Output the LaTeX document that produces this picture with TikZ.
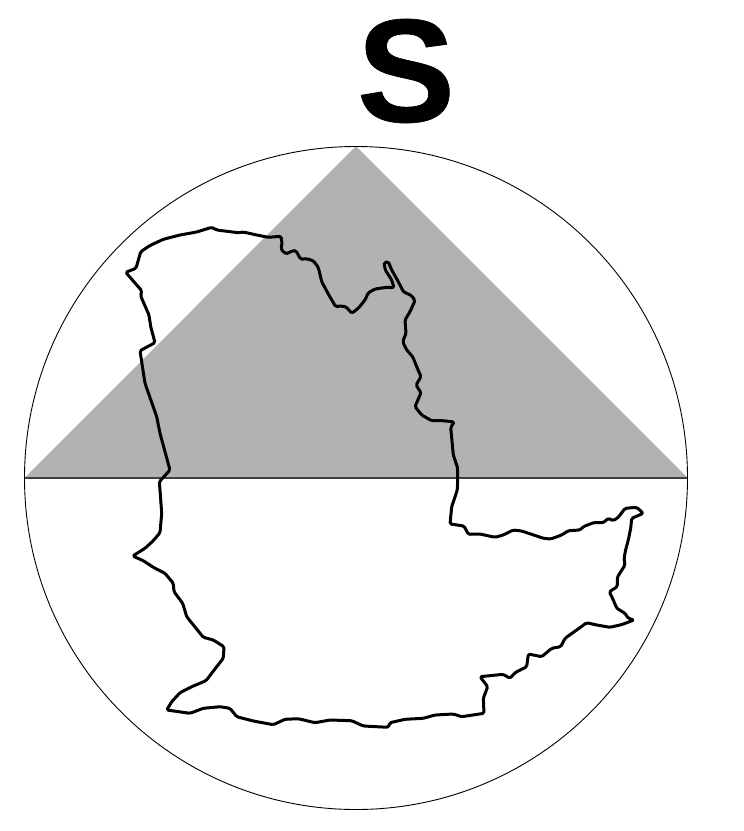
\documentclass[tikz,border=0pt]{standalone}
\usepackage{fontspec}
\setmainfont{Liberation Sans}
\newfontfamily\heavyfont[UprightFont=*-Bold,Extension=.ttf,FakeBold=0.5]{LiberationSans}
\definecolor{wedge}{HTML}{B2B2B2}
\definecolor{chord}{HTML}{404040}
\tikzset{outline/.style={line width=3pt,line join=round,line cap=round,rounded corners=1.5pt}}

\begin{document}
\begin{tikzpicture}[x=1pt,y=-1pt]
\useasboundingbox (0,0) rectangle (744,831);
\fill[wedge] (24.5,478)--(356,146)--(688,478)--cycle;
\draw[chord,line width=1.3pt] (24.5,478)--(688,478);
\draw[line width=0.9pt] (356,478) circle (331.5);
\node[font=\fontsize{147pt}{147pt}\heavyfont,inner sep=0pt] (south) at (406,71) {S};
\draw[outline] (211.7,227.3)--(216.7,230)--(238.3,232.7)--(243.3,232)--(256.7,235)--(268.3,237.3)--(281,236.3)--(282,243.3)--(281,249.3)--(286,254)--(292.7,250.7)--(296,250.7)--(300.7,259.3)--(306.7,258.7)--(313.3,260.7)--(318.3,267.3)--(321.7,281.7)--(328.3,294)--(335.7,306.7)--(340,306)--(346,306.7)--(351.7,313.3)--(358.3,308.3)--(365,300)--(368.3,292.7)--(375,289)--(386.7,287.3)--(394,287.7)--(391.7,280)--(385.3,270)--(384,262.7)--(388.3,261.7)--(391.7,270)--(398.3,281.7)--(403.3,291.7)--(411.7,295.7)--(415,300.7)--(410,311.7)--(405,320)--(406,333.3)--(402.7,341.7)--(406.7,350)--(412.7,356.7)--(416.7,366.7)--(421,376.7)--(416,385)--(421,392.7)--(415,406.7)--(421.7,415)--(431.7,420.7)--(443.3,420.7)--(454.3,422)--(450.7,427.3)--(453.3,455)--(457.7,468.3)--(457.7,480)--(457.3,490)--(451.7,506.7)--(450,524)--(464,526)--(468.3,534.3)--(480,534)--(495,537.3)--(503.3,535)--(513.3,530)--(521.7,531)--(536.7,536)--(543.3,538.3)--(550.7,539)--(561.7,535)--(568.3,530.7)--(580,530)--(583.3,526.7)--(593.3,522.7)--(603.3,522.7)--(608.3,518.3)--(613.3,520.7)--(618.3,517.3)--(625,508.3)--(636.7,507.3)--(643.3,513.3)--(631.7,518.3)--(630.7,528.3)--(628.3,540)--(626,548.3)--(624,558.3)--(625,565)--(617.3,577.3)--(617.3,586.7)--(609.3,591.7)--(613.3,600)--(616.7,608.3)--(625,613.3)--(628.3,618.3)--(634,620)--(622,624.5)--(610,627.3)--(596.7,625)--(586.7,622.7)--(576.7,630)--(565,638.3)--(560.7,646.7)--(551.7,648.3)--(541.7,656.7)--(528.3,654)--(526.7,666.7)--(515,672.7)--(510,678.3)--(503.3,674.3)--(480,676.7)--(487.7,686.7)--(483.3,698.3)--(484,713.3)--(461.7,716.7)--(453.3,714)--(435,715)--(423.3,718.3)--(405,719.3)--(390,722.7)--(388.3,727.3)--(363.3,726)--(351.7,720.7)--(330,720)--(315,722.7)--(298.3,718.7)--(285,719.3)--(273.3,724.7)--(253.3,721)--(236.7,716.7)--(230,708.3)--(220,706.7)--(203.3,708.3)--(190,713.3)--(166.7,710)--(171.7,701.7)--(180,692.7)--(191.7,686.7)--(206,680.7)--(216.7,666.7)--(223.3,658.3)--(224,646.7)--(213.3,640)--(203.3,637.3)--(186.7,616.7)--(182.7,603.3)--(174,591.7)--(173.3,583.3)--(165,573.3)--(153.3,567.3)--(143.3,560.7)--(132.7,556)--(145,548.3)--(153,541)--(160,532.7)--(161.7,513.3)--(160,490)--(159.3,481.7)--(170,470)--(160,433.3)--(156.7,416.7)--(145,383.3)--(140,350.7)--(155,342.7)--(150.7,326.7)--(149,315)--(140.7,296)--(141.7,290.7)--(125.7,272.3)--(136,268.3)--(140.7,251.7)--(150,245.5)--(163.3,239.3)--(180,235)--(196.7,232)--cycle;
\end{tikzpicture}
\end{document}
